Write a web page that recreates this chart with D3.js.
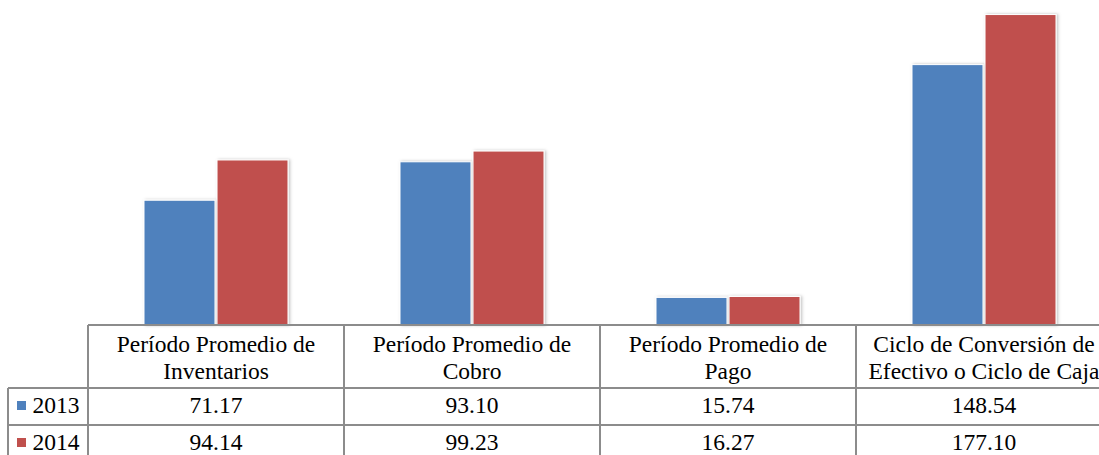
<!DOCTYPE html>
<html>
<head>
<meta charset="utf-8">
<script src="https://cdn.jsdelivr.net/npm/d3@7"></script>
<style>
html,body{margin:0;padding:0;background:#fff;overflow:hidden;}
svg{display:block;}
</style>
</head>
<body>
<svg id="chart" width="1099" height="455"></svg>
<script>
const categories = [
  ["Período Promedio de", "Inventarios"],
  ["Período Promedio de", "Cobro"],
  ["Período Promedio de", "Pago"],
  ["Ciclo de Conversión de", "Efectivo o Ciclo de Caja"]
];
const seriesNames = ["2013", "2014"];
const values2013 = [71.17, 93.10, 15.74, 148.54];
const values2014 = [94.14, 99.23, 16.27, 177.10];
const valueLabels2013 = ["71.17", "93.10", "15.74", "148.54"];
const valueLabels2014 = ["94.14", "99.23", "16.27", "177.10"];
const colors = ["#4F81BD", "#C0504D"];

const series = [
  {name: seriesNames[0], values: values2013, labels: valueLabels2013, color: colors[0]},
  {name: seriesNames[1], values: values2014, labels: valueLabels2014, color: colors[1]}
];

const FONT = "'Liberation Serif', 'Times New Roman', Tinos, serif";
const FS = 23.5;
const svg = d3.select("#chart");
const baseY = 325;
const tableLeft = 88;
const colW = 256;
const legendLeft = 8;
const rowTops = [325, 388, 425, 462];
const rowBaselines = [413, 450];

const x = d3.scaleBand().domain(d3.range(categories.length))
  .range([tableLeft, tableLeft + colW * categories.length]).paddingInner(0).paddingOuter(0);
const x1 = d3.scaleBand().domain(d3.range(series.length))
  .range([56, 200]).paddingInner(0.028).paddingOuter(0);
const y = d3.scaleLinear().domain([0, 200]).range([baseY, baseY - 350.6]);

const defs = svg.append("defs");
const f = defs.append("filter").attr("id", "sh").attr("x", "-20%").attr("y", "-20%").attr("width", "140%").attr("height", "140%");
f.append("feDropShadow").attr("dx", 1.5).attr("dy", 0).attr("stdDeviation", 1.5).attr("flood-color", "#000").attr("flood-opacity", 0.25);

const gBars = svg.append("g");
series.forEach((s, si) => {
  gBars.selectAll(null).data(s.values).enter().append("rect")
    .attr("x", (d, i) => x(i) + x1(si))
    .attr("y", d => y(d))
    .attr("width", x1.bandwidth())
    .attr("height", d => baseY - y(d))
    .attr("fill", s.color)
    .attr("stroke", "#fff")
    .attr("stroke-width", 1)
    .attr("filter", "url(#sh)");
});

// table
const lineColor = "#8c8c8c";
const gT = svg.append("g").attr("stroke", lineColor).attr("stroke-width", 2);
const rightEdge = 1110;
gT.append("line").attr("x1", tableLeft).attr("x2", rightEdge).attr("y1", rowTops[0]).attr("y2", rowTops[0]);
gT.append("line").attr("x1", legendLeft).attr("x2", rightEdge).attr("y1", rowTops[1]).attr("y2", rowTops[1]);
gT.append("line").attr("x1", legendLeft).attr("x2", rightEdge).attr("y1", rowTops[2]).attr("y2", rowTops[2]);
gT.append("line").attr("x1", legendLeft).attr("x2", legendLeft).attr("y1", rowTops[1]).attr("y2", 460);
gT.selectAll(null).data(d3.range(categories.length + 1)).enter().append("line")
  .attr("x1", i => tableLeft + i * colW).attr("x2", i => tableLeft + i * colW)
  .attr("y1", rowTops[0]).attr("y2", 460);

function txt(xp, yp, t, anchor) {
  return svg.append("text").attr("x", xp).attr("y", yp)
    .attr("text-anchor", anchor || "middle")
    .style("font-family", FONT).style("font-size", FS + "px").style("fill", "#000")
    .text(t);
}
categories.forEach((lines, i) => {
  lines.forEach((ln, li) => txt(x(i) + x.bandwidth() / 2, 352 + li * 27, ln));
});
series.forEach((s, si) => {
  const cy = rowBaselines[si];
  s.labels.forEach((lab, i) => txt(x(i) + x.bandwidth() / 2, cy, lab));
  svg.append("rect").attr("x", 17).attr("y", cy - 12).attr("width", 9).attr("height", 9).attr("fill", s.color);
  txt(32.5, cy, s.name, "start");
});
</script>
</body>
</html>
